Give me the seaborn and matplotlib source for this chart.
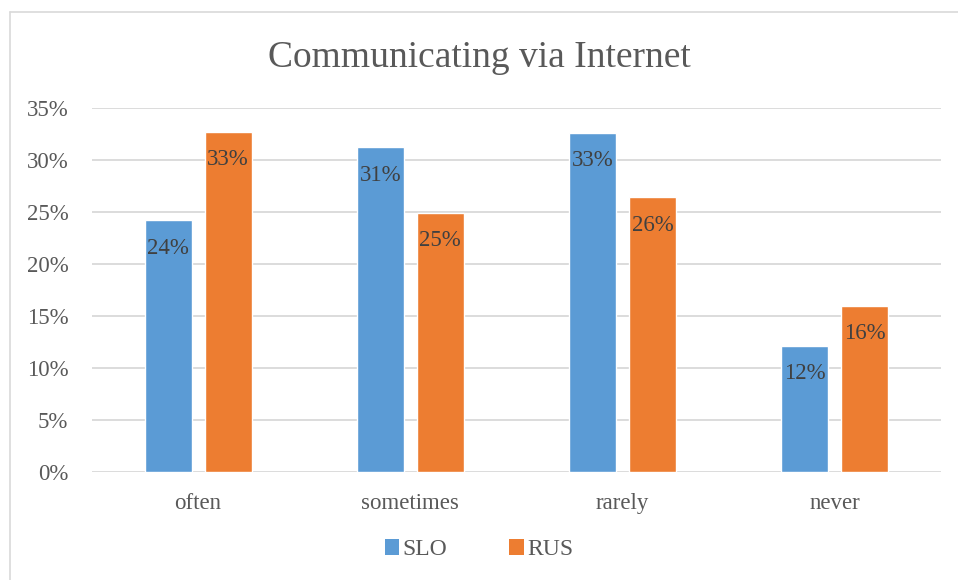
import numpy as np
import pandas as pd
import matplotlib
matplotlib.use("Agg")
import matplotlib.pyplot as plt
from matplotlib.lines import Line2D
from matplotlib.patches import Patch
from matplotlib.ticker import PercentFormatter
import seaborn as sns

# data (share of respondents, %)
categories = ["often", "sometimes", "rarely", "never"]
countries = ["SLO", "RUS"]
slo_values = [24.2, 31.2, 32.6, 12.1]
rus_values = [32.7, 24.9, 26.4, 16.0]
colors = ["#5B9BD5", "#ED7D31"]

df = pd.DataFrame({
    "category": categories * 2,
    "country": ["SLO"] * 4 + ["RUS"] * 4,
    "value": slo_values + rus_values,
})

sns.set_theme(style="white")
plt.rcParams["font.family"] = ["Liberation Serif", "DejaVu Serif"]

fig = plt.figure(figsize=(9.58, 5.8), dpi=100)
ax = fig.add_axes([0.096, 0.186, 0.886, 0.628])

sns.barplot(data=df, x="category", y="value", hue="country",
            order=categories, hue_order=countries, palette=colors,
            width=0.566, gap=0.217, saturation=1, ax=ax, legend=False)

# data labels just inside the top of every bar
for cont, vals in zip(ax.containers, [slo_values, rus_values]):
    for bar, v in zip(cont, vals):
        ax.annotate(f"{v:.0f}%", (bar.get_x() + bar.get_width() / 2, v),
                    xytext=(0, -20), textcoords="offset points",
                    ha="center", va="center", fontsize=16.5, color="#404040")

ax.set_ylim(0, 35)
ax.set_yticks(np.arange(0, 36, 5))
ax.yaxis.set_major_formatter(PercentFormatter(decimals=0))
ax.grid(axis="y", color="#D9D9D9", linewidth=1.3)
ax.set_axisbelow(True)
for s in ax.spines.values():
    s.set_visible(False)
ax.tick_params(axis="y", length=0, pad=17, labelsize=16.5, labelcolor="#595959")
ax.tick_params(axis="x", length=0, pad=15, labelsize=16.5, labelcolor="#595959")
ax.set_xlabel("")
ax.set_ylabel("")

fig.text(0.5, 0.9, "Communicating via Internet", ha="center", va="center",
         fontsize=27, color="#595959")

handles = [Patch(facecolor=c, edgecolor="none", label=n) for c, n in zip(colors, countries)]
fig.legend(handles=handles, loc="center", bbox_to_anchor=(0.5, 0.052), ncol=2,
           frameon=False, fontsize=17, handlelength=0.62, handleheight=0.62,
           handletextpad=0.15, columnspacing=2.6, labelcolor="#595959")

# thin grey frame lines (top and left) like the chart area border
fig.add_artist(Line2D([0.0105, 1.0], [0.979, 0.979], transform=fig.transFigure,
                      color="#D9D9D9", linewidth=1.2))
fig.add_artist(Line2D([0.0105, 0.0105], [0.0, 0.979], transform=fig.transFigure,
                      color="#D9D9D9", linewidth=1.2))

fig.savefig("out.png", dpi=100, facecolor="white")
